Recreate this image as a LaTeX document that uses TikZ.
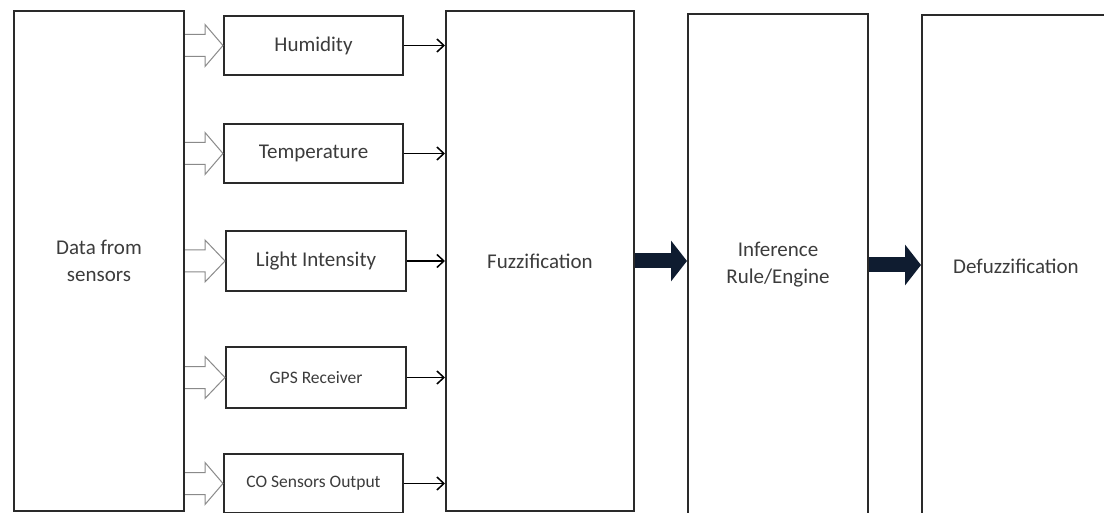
\documentclass[tikz,border=0pt]{standalone}
\usepackage{fontspec}
\setmainfont{Carlito}
\usetikzlibrary{arrows.meta,calc}
\definecolor{boxline}{HTML}{2A2A2A}
\definecolor{txt}{HTML}{3C3C3C}
\definecolor{hollowline}{HTML}{8A8A8A}
\definecolor{navy}{HTML}{0F1C30}
\tikzset{
  blk/.style={draw=boxline, line width=2pt, fill=white, inner sep=0pt, anchor=north west, align=center, text=txt, font=\fontsize{21}{27}\selectfont},
  smallbox/.style={blk, font=\fontsize{17.5}{22}\selectfont},
  hollow/.style={draw=hollowline, line width=1pt, fill=white, line join=miter},
  feed/.style={draw=black, line width=1.5pt, -{Straight Barb[length=7pt,width=13pt,line width=1.5pt]}},
  bigarrow/.style={draw=navy, line width=15pt, -{Triangle[length=16pt,width=40pt]}}
}
\begin{document}
\begin{tikzpicture}[x=1pt,y=-1pt]
\useasboundingbox (0,0) rectangle (1104,513);
\clip (0,0) rectangle (1104,513);
\fill[white] (0,0) rectangle (1104,513);
\node[blk, minimum width=170pt, minimum height=500pt] (data) at (13,10) {Data from\\sensors};
\node[blk, minimum width=179pt, minimum height=59pt] (hum) at (223,15) {Humidity};
\node[blk, minimum width=179pt, minimum height=59pt] (temp) at (223,123) {Temperature};
\node[blk, minimum width=180pt, minimum height=60pt] (light) at (225,230) {Light Intensity};
\node[smallbox, minimum width=180pt, minimum height=61pt] (gps) at (225,346) {GPS Receiver};
\node[smallbox, minimum width=179pt, minimum height=59pt] (co) at (223,453) {CO Sensors Output};
\node[blk, minimum width=188pt, minimum height=500pt] (fuzz) at (445,10) {Fuzzification};
\node[blk, minimum width=180pt, minimum height=502pt] (inf) at (687,13) {Inference\\Rule/Engine};
\node[blk, minimum width=188pt, minimum height=502pt] (defuzz) at (921,14) {Defuzzification};
\foreach \b in {hum,temp,light,gps,co}{
  \coordinate (p\b) at (data.east |- \b.west);
  \draw[hollow] ($(p\b)+(0,-11)$) -- ++(20,0) -- ++(0,-10) -- (\b.west)
     -- ($(p\b)+(20,21)$) -- ++(0,-10) -- ($(p\b)+(0,11)$);
  \draw[feed] (\b.east) -- (\b.east -| fuzz.west);
}
\draw[bigarrow] (fuzz.east) -- (fuzz.east -| inf.west);
\draw[bigarrow] (inf.east) -- (inf.east -| defuzz.west);
\end{tikzpicture}
\end{document}
